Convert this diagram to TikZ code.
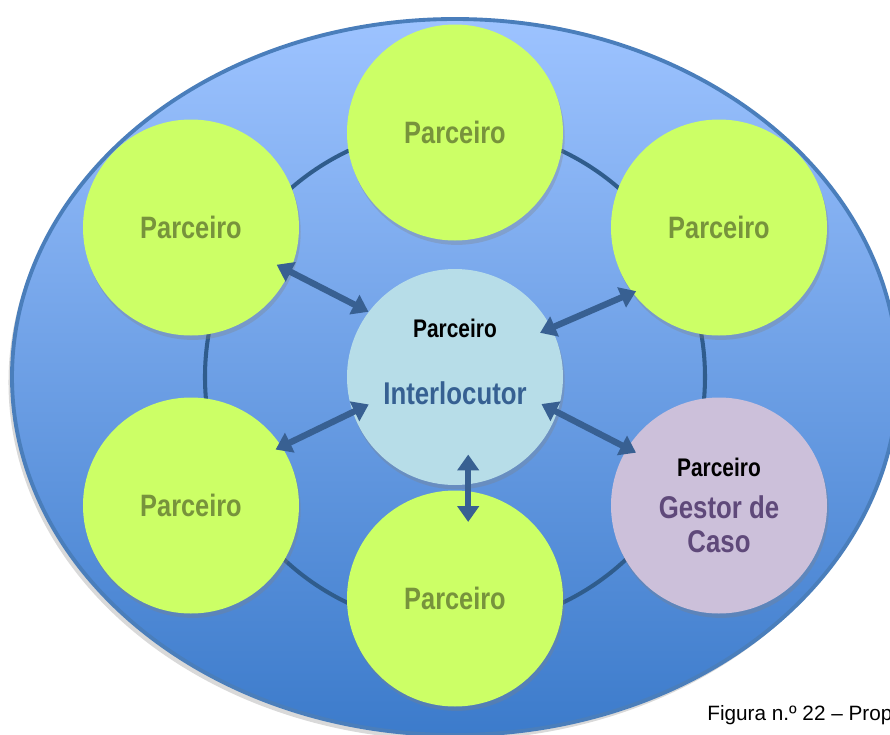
\documentclass[tikz,border=0pt]{standalone}
\usepackage{fontspec}
\setmainfont{Liberation Sans}
\newfontfamily\narrowsf[FakeStretch=0.82]{Liberation Sans}
\usepackage{tikz}
\usetikzlibrary{calc}
\usetikzlibrary{arrows.meta}
\usetikzlibrary{shadows}
\usetikzlibrary{positioning}

\definecolor{partnerfill}{RGB}{204,255,102}
\definecolor{partnertext}{RGB}{119,147,60}
\definecolor{hubfill}{RGB}{183,221,232}
\definecolor{hubtext}{RGB}{54,96,146}
\definecolor{casefill}{RGB}{204,192,218}
\definecolor{casetext}{RGB}{95,73,122}
\definecolor{ringblue}{RGB}{47,92,140}
\definecolor{arrowblue}{RGB}{56,96,146}
\definecolor{skytop}{RGB}{157,195,255}
\definecolor{skybottom}{RGB}{60,123,203}
\definecolor{rimblue}{RGB}{74,126,187}

\begin{document}
\begin{tikzpicture}[
  disc/.style={circle,minimum size=4.32cm,inner sep=0pt,
    drop shadow={shadow xshift=1pt,shadow yshift=-2.5pt,opacity=0.3}},
  partner/.style={disc,fill=partnerfill,text=partnertext,
    font=\narrowsf\bfseries\fontsize{17.6}{20}\selectfont},
  link/.style={draw=arrowblue,line width=3.6pt,
    {Triangle[width=12pt,length=9pt]}-{Triangle[width=12pt,length=9pt]}}
]
\useasboundingbox (-9.1,-7.14) rectangle (8.7,7.54);
% background and ring
\path[top color=skytop,bottom color=skybottom,draw=rimblue,line width=2.2pt,
  drop shadow={shadow xshift=-2pt,shadow yshift=-3pt,opacity=0.3}]
  (0,0) ellipse (8.86 and 7.16);
\draw[ringblue,line width=2.3pt] (0,0) circle (5cm);
% partners
\node[partner] (top) at (0,4.89) {Parceiro};
\node[partner] (ul) at (-5.28,2.99) {Parceiro};
\node[partner] (ur) at (5.28,2.99) {Parceiro};
\node[partner] (ll) at (-5.28,-2.57) {Parceiro};
\node[partner] (bot) at (0,-4.43) {Parceiro};
\node[disc,fill=casefill,align=center,text=casetext,
  font=\narrowsf\bfseries\fontsize{17.9}{19.8}\selectfont] (lr) at (5.28,-2.57)
  {{\color{black}\fontsize{14.5}{16}\selectfont Parceiro}\\[4pt]Gestor de\\Caso};
% interlocutor
\node[disc,fill=hubfill] (c) at (0,0) {};
\node[font=\narrowsf\bfseries\fontsize{14.5}{16}\selectfont] (c-who) at ([yshift=0.98cm]c.center) {Parceiro};
\node[text=hubtext,font=\narrowsf\bfseries\fontsize{17.9}{20}\selectfont] (c-role) at ([yshift=-0.32cm]c.center) {Interlocutor};
% arrows
\draw[link,shorten >=-0.3cm] (c.143) -- (ul.-24);
\draw[link,shorten <=-0.25cm,shorten >=-0.08cm] (c.27) -- (ur.217);
\draw[link,shorten <=-0.36cm,shorten >=-0.14cm] (c.199) -- (ll.33);
\draw[link,shorten <=-0.36cm,shorten >=-0.2cm] (c.-19) -- (lr.148);
\draw[link,shorten <=-0.6cm,shorten >=-0.62cm] (c.-83) -- (bot.83);
% caption
\node[anchor=base west,inner sep=0pt,font=\fontsize{11.8}{14}\selectfont] (caption) at (5.04,-6.86) {Figura n.º 22 – Prop};
\end{tikzpicture}
\end{document}
